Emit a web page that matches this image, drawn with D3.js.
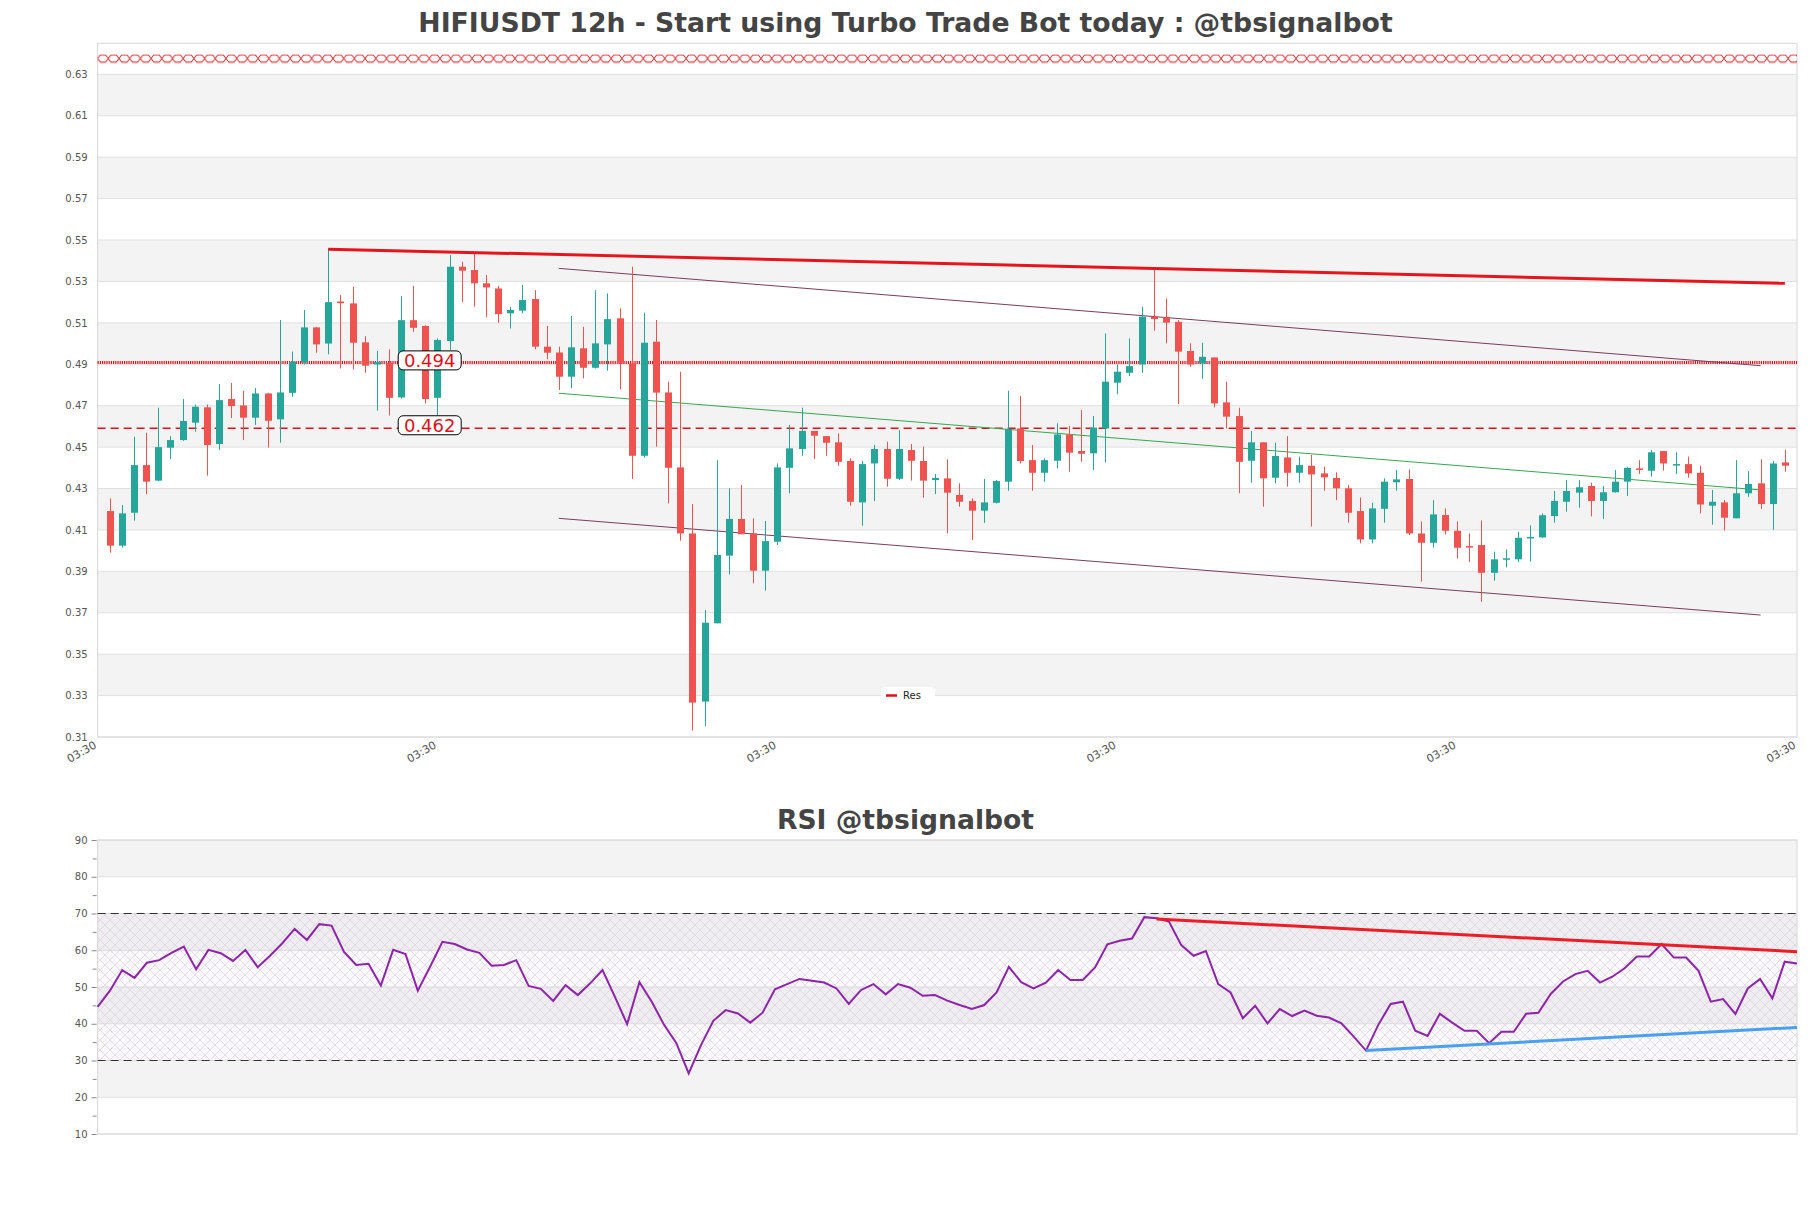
<!DOCTYPE html>
<html><head><meta charset="utf-8">
<script src="https://cdn.jsdelivr.net/npm/d3@7"></script>
<style>body{margin:0;background:#fff;} svg{display:block;font-family:"DejaVu Sans",sans-serif;}</style>
</head><body><svg id="c" width="1811" height="1208"></svg>
<script>
// ---------- DATA ----------
const opens=[0.4191,0.4024,0.4183,0.4413,0.4338,0.4497,0.4534,0.4618,0.4692,0.4515,0.4732,0.4701,0.4642,0.4759,0.4634,0.4762,0.4908,0.5078,0.5000,0.5203,
0.5194,0.5006,0.4899,0.4907,0.4740,0.5113,0.5085,0.4738,0.5012,0.5371,0.5355,0.5291,0.5266,0.5146,0.5159,0.5215,0.4985,0.4957,0.4840,0.4977,
0.4883,0.4996,0.5122,0.4904,0.4458,0.5009,0.4764,0.4402,0.4083,0.3271,0.3649,0.3976,0.4153,0.4083,0.3903,0.4043,0.4400,0.4491,0.4578,0.4553,
0.4523,0.4433,0.4233,0.4421,0.4491,0.4347,0.4486,0.4433,0.4341,0.4349,0.4269,0.4240,0.4193,0.4231,0.4333,0.4590,0.4437,0.4376,0.4434,0.4561,
0.4481,0.4470,0.4590,0.4811,0.4859,0.4899,0.5130,0.5127,0.5105,0.4964,0.4904,0.4933,0.4716,0.4650,0.4434,0.4523,0.4352,0.4450,0.4376,0.4410,
0.4373,0.4351,0.4301,0.4191,0.4054,0.4202,0.4330,0.4346,0.4083,0.4038,0.4172,0.4096,0.4022,0.4027,0.3893,0.3959,0.3958,0.4060,0.4064,0.4167,
0.4236,0.4280,0.4312,0.4240,0.4282,0.4333,0.4397,0.4386,0.4481,0.4413,0.4418,0.4376,0.4217,0.4233,0.4156,0.4277,0.4325,0.4225,0.4426];
const highs=[0.4252,0.4220,0.4550,0.4569,0.4690,0.4553,0.4732,0.4706,0.4706,0.4804,0.4810,0.4772,0.4785,0.4762,0.5114,0.4961,0.5162,0.5080,0.5460,0.5234,
0.5274,0.5036,0.4964,0.4972,0.5229,0.5278,0.5088,0.5025,0.5427,0.5395,0.5443,0.5331,0.5278,0.5178,0.5283,0.5258,0.5085,0.4985,0.5133,0.5081,
0.5258,0.5242,0.5170,0.5371,0.5149,0.5114,0.4816,0.4864,0.4225,0.3713,0.4437,0.4301,0.4317,0.4156,0.4143,0.4421,0.4607,0.4690,0.4578,0.4553,
0.4566,0.4446,0.4433,0.4510,0.4526,0.4582,0.4515,0.4502,0.4370,0.4441,0.4325,0.4252,0.4346,0.4341,0.4772,0.4747,0.4510,0.4446,0.4615,0.4602,
0.4679,0.4650,0.5049,0.4899,0.5025,0.5178,0.5358,0.5218,0.5113,0.5001,0.5004,0.4933,0.4816,0.4690,0.4578,0.4523,0.4521,0.4553,0.4454,0.4462,
0.4405,0.4378,0.4317,0.4257,0.4231,0.4349,0.4389,0.4392,0.4141,0.4244,0.4204,0.4141,0.4083,0.4146,0.3995,0.4006,0.4091,0.4122,0.4180,0.4288,
0.4341,0.4341,0.4328,0.4312,0.4389,0.4405,0.4437,0.4486,0.4481,0.4475,0.4454,0.4410,0.4293,0.4244,0.4437,0.4384,0.4441,0.4433,0.4486];
const lows=[0.3990,0.4014,0.4145,0.4273,0.4335,0.4442,0.4530,0.4574,0.4362,0.4486,0.4640,0.4534,0.4607,0.4497,0.4521,0.4743,0.4899,0.4956,0.4948,0.4880,
0.4875,0.4859,0.4676,0.4652,0.4735,0.5057,0.4711,0.4647,0.4969,0.5200,0.5178,0.5126,0.5100,0.5073,0.5146,0.4972,0.4924,0.4776,0.4784,0.4832,
0.4880,0.4869,0.4779,0.4346,0.4450,0.4502,0.4228,0.4048,0.3131,0.3153,0.3649,0.3885,0.4079,0.3842,0.3807,0.4027,0.4277,0.4458,0.4442,0.4458,
0.4410,0.4217,0.4120,0.4239,0.4309,0.4341,0.4338,0.4256,0.4273,0.4083,0.4212,0.4051,0.4134,0.4228,0.4289,0.4421,0.4289,0.4333,0.4397,0.4381,
0.4429,0.4389,0.4426,0.4755,0.4843,0.4859,0.5062,0.5001,0.4708,0.4888,0.4830,0.4692,0.4590,0.4277,0.4328,0.4212,0.4325,0.4309,0.4328,0.4116,
0.4289,0.4244,0.4135,0.4035,0.4035,0.4135,0.4289,0.4075,0.3850,0.4015,0.4078,0.3962,0.3946,0.3753,0.3855,0.3919,0.3945,0.3947,0.4060,0.4135,
0.4188,0.4207,0.4165,0.4153,0.4280,0.4264,0.4370,0.4357,0.4386,0.4370,0.4352,0.4180,0.4125,0.4097,0.4156,0.4260,0.4201,0.4100,0.4381];
const closes=[0.4024,0.4180,0.4413,0.4333,0.4500,0.4534,0.4626,0.4695,0.4510,0.4727,0.4698,0.4642,0.4759,0.4627,0.4764,0.4911,0.5078,0.4996,0.5200,0.5195,
0.5004,0.4893,0.4911,0.4738,0.5113,0.5076,0.4732,0.5017,0.5371,0.5352,0.5291,0.5271,0.5142,0.5162,0.5210,0.4985,0.4956,0.4840,0.4982,0.4883,
0.5001,0.5118,0.4904,0.4458,0.5004,0.4763,0.4400,0.4083,0.3266,0.3652,0.3979,0.4153,0.4079,0.3903,0.4046,0.4402,0.4494,0.4578,0.4555,0.4521,
0.4429,0.4236,0.4418,0.4491,0.4347,0.4491,0.4434,0.4338,0.4351,0.4280,0.4236,0.4193,0.4233,0.4336,0.4587,0.4433,0.4376,0.4437,0.4561,0.4473,
0.4468,0.4594,0.4816,0.4864,0.4891,0.5130,0.5118,0.5101,0.4961,0.4899,0.4936,0.4711,0.4647,0.4429,0.4523,0.4349,0.4457,0.4376,0.4413,0.4368,
0.4354,0.4301,0.4183,0.4054,0.4204,0.4333,0.4344,0.4083,0.4038,0.4175,0.4096,0.4014,0.4016,0.3893,0.3958,0.3963,0.4062,0.4066,0.4171,0.4240,
0.4288,0.4306,0.4240,0.4282,0.4333,0.4400,0.4392,0.4475,0.4421,0.4418,0.4373,0.4223,0.4236,0.4159,0.4277,0.4322,0.4225,0.4421,0.4410];

const rsiValues=[44.6,49.0,54.6,52.5,56.6,57.3,59.3,61.0,54.8,60.1,59.2,57.1,60.1,55.4,58.5,61.9,65.8,62.8,67.1,66.7,
59.6,56.0,56.3,50.4,60.1,59.0,49.0,55.5,62.3,61.7,60.2,59.3,55.8,56.0,57.3,50.3,49.5,46.2,50.5,47.8,
51.0,54.6,47.4,39.9,51.3,46.0,39.7,34.7,26.5,34.2,40.8,43.7,42.8,40.3,43.0,49.4,50.8,52.2,51.7,51.2,
49.6,45.4,49.2,50.8,48.0,50.8,49.8,47.6,47.8,46.3,45.1,44.0,45.1,48.5,55.5,51.3,49.6,51.2,54.6,51.9,
51.9,55.3,61.6,62.6,63.2,69.0,68.7,67.8,61.4,58.5,59.8,50.8,48.5,41.5,44.9,40.1,44.0,42.1,43.6,42.2,
41.7,40.1,36.5,32.7,39.7,45.4,46.0,38.1,36.7,42.7,40.3,38.1,38.1,34.7,37.8,37.8,42.7,43.0,48.1,51.5,
53.5,54.4,51.2,52.8,55.1,58.3,58.3,61.7,58.0,58.0,54.4,46.0,46.7,42.7,49.6,52.2,46.9,56.9,56.4];

const priceTicks=[0.31,0.33,0.35,0.37,0.39,0.41,0.43,0.45,0.47,0.49,0.51,0.53,0.55,0.57,0.59,0.61,0.63];
const rsiTicks=[10,20,30,40,50,60,70,80,90];
const rsiMinorTicks=[15,25,35,45,55,65,75,85];
const timeTickIdx=[-1,27,55,83,111,139];
const timeTickLabels=["03:30","03:30","03:30","03:30","03:30","03:30"];

const resTrend=[{i:18,p:0.5456},{i:138,p:0.5291}];
const channelUpper=[{i:37,p:0.5363},{i:136,p:0.4893}];
const channelMid=[{i:37,p:0.4760},{i:136,p:0.4293}];
const channelLower=[{i:37,p:0.4156},{i:136,p:0.3689}];
const levelDotted=0.4909, levelDottedLabel="0.494";
const levelDashed=0.4591, levelDashedLabel="0.462";
const levelTop=0.6375;
const rsiRedTrend=[{j:86,v:68.5},{j:138,v:59.6}];
const rsiBlueTrend=[{j:103,v:32.7},{j:138,v:39.0}];
const rsiBands=[30,70];

// ---------- DRAW ----------
const svg=d3.select("#c");
const L=97.6,R=1797;
const mainTop=43.3, mainBot=737;
const rsiTop=840, rsiBot=1134;
const UP="#26a69a", DOWN="#ef5350";

const x=d3.scaleLinear().domain([-1,139]).range([L,R]);
const y=d3.scaleLinear().domain([0.31,0.645]).range([mainBot,mainTop]);
const xr=d3.scaleLinear().domain([0,138]).range([L,R]);
const yr=d3.scaleLinear().domain([10,90]).range([rsiBot,rsiTop]);

const defs=svg.append("defs");
const hp=defs.append("pattern").attr("id","hatch").attr("width",10).attr("height",10).attr("patternUnits","userSpaceOnUse");
hp.append("path").attr("d","M0,0L10,10M10,0L0,10").attr("stroke","#d2cbd9").attr("stroke-width",0.6).attr("fill","none");
const xp=defs.append("pattern").attr("id","xline").attr("width",10.7).attr("height",9).attr("patternUnits","userSpaceOnUse").attr("x",L).attr("y",0);
xp.append("path").attr("d","M0,4.5L2.6,1L8.1,1L10.7,4.5M0,4.5L2.6,8L8.1,8L10.7,4.5").attr("stroke","#e0262b").attr("stroke-width",1).attr("fill","none");

// titles
svg.append("text").attr("x",905.5).attr("y",32).attr("text-anchor","middle").attr("font-weight","bold").attr("font-size",26.7).attr("fill","#444")
  .text("HIFIUSDT 12h - Start using Turbo Trade Bot today : @tbsignalbot");
svg.append("text").attr("x",905.5).attr("y",829).attr("text-anchor","middle").attr("font-weight","bold").attr("font-size",26.6).attr("fill","#444")
  .text("RSI @tbsignalbot");

// main bands & grid
const gm=svg.append("g");
for(let k=1;k<priceTicks.length-1;k+=2){
  gm.append("rect").attr("x",L).attr("width",R-L).attr("y",y(priceTicks[k+1])).attr("height",y(priceTicks[k])-y(priceTicks[k+1])).attr("fill","#f3f3f3");
}
gm.selectAll("line.g").data(priceTicks).join("line").attr("x1",L).attr("x2",R).attr("y1",d=>y(d)).attr("y2",d=>y(d)).attr("stroke","#e0e0e0");
gm.append("rect").attr("x",L).attr("y",mainTop).attr("width",R-L).attr("height",mainBot-mainTop).attr("fill","none").attr("stroke","#d8d8d8");
const yAxis=d3.axisLeft(y).tickValues(priceTicks).tickFormat(d3.format(".2f")).tickSize(0).tickPadding(10);
gm.append("g").attr("transform",`translate(${L},0)`).call(yAxis).call(g=>g.select(".domain").remove())
  .selectAll("text").attr("font-size",10).attr("fill","#555").attr("font-family","DejaVu Sans");
const xAxis=d3.axisBottom(x).tickValues(timeTickIdx).tickFormat((d,i)=>timeTickLabels[i]).tickSize(0);
gm.append("g").attr("transform",`translate(0,${mainBot})`).call(xAxis).call(g=>g.select(".domain").remove())
  .selectAll("text").attr("font-size",11).attr("fill","#555").attr("font-family","DejaVu Sans")
  .attr("text-anchor","end").attr("y",0).attr("transform","translate(-5,3) rotate(-30)").attr("dy","0.75em");

// top x line
gm.append("rect").attr("x",L).attr("width",R-L).attr("y",y(levelTop)-4.5).attr("height",9).attr("fill","url(#xline)").attr("transform",`translate(0,0)`);

// levels
gm.append("line").attr("x1",L).attr("x2",R).attr("y1",y(levelDotted)).attr("y2",y(levelDotted)).attr("stroke","#e0101a").attr("stroke-width",3).attr("stroke-dasharray","1.2,1");
gm.append("line").attr("x1",L).attr("x2",R).attr("y1",y(levelDashed)).attr("y2",y(levelDashed)).attr("stroke","#e0101a").attr("stroke-width",1.3).attr("stroke-dasharray","8,5");

// channel lines
const tl=d3.line().x(d=>x(d.i)).y(d=>y(d.p));
gm.append("path").attr("d",tl(channelUpper)).attr("stroke","#7a3d5c").attr("stroke-width",1).attr("fill","none");
gm.append("path").attr("d",tl(channelLower)).attr("stroke","#7a3d5c").attr("stroke-width",1).attr("fill","none");
gm.append("path").attr("d",tl(channelMid)).attr("stroke","#34a853").attr("stroke-width",1).attr("fill","none");

// candles
const idx=d3.range(opens.length);
const cg=gm.append("g");
const col=i=>closes[i]>=opens[i]?UP:DOWN;
cg.selectAll("line.w").data(idx).join("line").attr("x1",i=>Math.round(x(i))+0.5).attr("x2",i=>Math.round(x(i))+0.5)
  .attr("y1",i=>y(highs[i])).attr("y2",i=>y(lows[i])).attr("stroke",col).attr("stroke-width",1);
const bw=7;
cg.selectAll("rect.b").data(idx).join("rect").attr("x",i=>Math.round(x(i))+0.5-bw/2).attr("width",bw)
  .attr("y",i=>y(Math.max(opens[i],closes[i]))).attr("height",i=>Math.max(1.5,Math.abs(y(opens[i])-y(closes[i])))).attr("fill",col);

// res trend
gm.append("path").attr("d",tl(resTrend)).attr("stroke","#e8141c").attr("stroke-width",3).attr("fill","none");

// level labels
function lbl(t,yy,by){
  const g=gm.append("g").attr("transform",`translate(${429.7},${yy})`);
  g.append("rect").attr("x",-31.5).attr("y",-9.5).attr("width",63).attr("height",19).attr("rx",5).attr("fill","#fff").attr("stroke","#000").attr("stroke-width",1);
  g.append("text").attr("text-anchor","middle").attr("y",by).attr("font-size",18).attr("fill","#e0101a").text(t);
}
lbl(levelDottedLabel,y(levelDotted)-2,6.3);
lbl(levelDashedLabel,y(levelDashed)-3,6.3);

// legend
const lg=gm.append("g").attr("transform","translate(881,687)");
lg.append("rect").attr("width",54).attr("height",15).attr("rx",4).attr("fill","#fff");
lg.append("line").attr("x1",5).attr("x2",16).attr("y1",8.5).attr("y2",8.5).attr("stroke","#e0101a").attr("stroke-width",2.5);
lg.append("text").attr("x",22).attr("y",12).attr("font-size",10).attr("fill","#222").text("Res");

// ---------- RSI ----------
const gr=svg.append("g");
for(let k=1;k<rsiTicks.length-1;k+=2){
  gr.append("rect").attr("x",L).attr("width",R-L).attr("y",yr(rsiTicks[k+1])).attr("height",yr(rsiTicks[k])-yr(rsiTicks[k+1])).attr("fill","#f3f3f3");
}
gr.selectAll("line.g").data(rsiTicks).join("line").attr("x1",L).attr("x2",R).attr("y1",d=>yr(d)).attr("y2",d=>yr(d)).attr("stroke","#e0e0e0");
gr.append("rect").attr("x",L).attr("width",R-L).attr("y",yr(rsiBands[1])).attr("height",yr(rsiBands[0])-yr(rsiBands[1])).attr("fill","rgba(150,110,180,0.04)");
gr.append("rect").attr("x",L).attr("width",R-L).attr("y",yr(rsiBands[1])).attr("height",yr(rsiBands[0])-yr(rsiBands[1])).attr("fill","url(#hatch)");
gr.append("rect").attr("x",L).attr("y",rsiTop).attr("width",R-L).attr("height",rsiBot-rsiTop).attr("fill","none").attr("stroke","#d8d8d8");
rsiBands.forEach(v=>gr.append("line").attr("x1",L).attr("x2",R).attr("y1",yr(v)).attr("y2",yr(v)).attr("stroke","#333").attr("stroke-width",1.2).attr("stroke-dasharray","8,5"));
const ryAxis=d3.axisLeft(yr).tickValues(rsiTicks).tickSize(5).tickPadding(4);
gr.append("g").attr("transform",`translate(${L-1},0)`).call(ryAxis).call(g=>g.select(".domain").remove())
  .call(g=>g.selectAll("line").attr("stroke","#888"))
  .selectAll("text").attr("font-size",10).attr("fill","#555").attr("font-family","DejaVu Sans");
gr.append("g").attr("transform",`translate(${L-1},0)`).call(d3.axisLeft(yr).tickValues(rsiMinorTicks).tickSize(4).tickFormat(""))
  .call(g=>g.select(".domain").remove()).call(g=>g.selectAll("line").attr("stroke","#888"));
const rl=d3.line().x((d,j)=>xr(j)).y(d=>yr(d));
gr.append("path").attr("d",rl(rsiValues)).attr("stroke","#8e24aa").attr("stroke-width",2).attr("fill","none");
const rtl=d3.line().x(d=>xr(d.j)).y(d=>yr(d.v));
gr.append("path").attr("d",rtl(rsiRedTrend)).attr("stroke","#ee1c24").attr("stroke-width",3).attr("fill","none");
gr.append("path").attr("d",rtl(rsiBlueTrend)).attr("stroke","#4aa0f0").attr("stroke-width",3).attr("fill","none");
</script></body></html>
